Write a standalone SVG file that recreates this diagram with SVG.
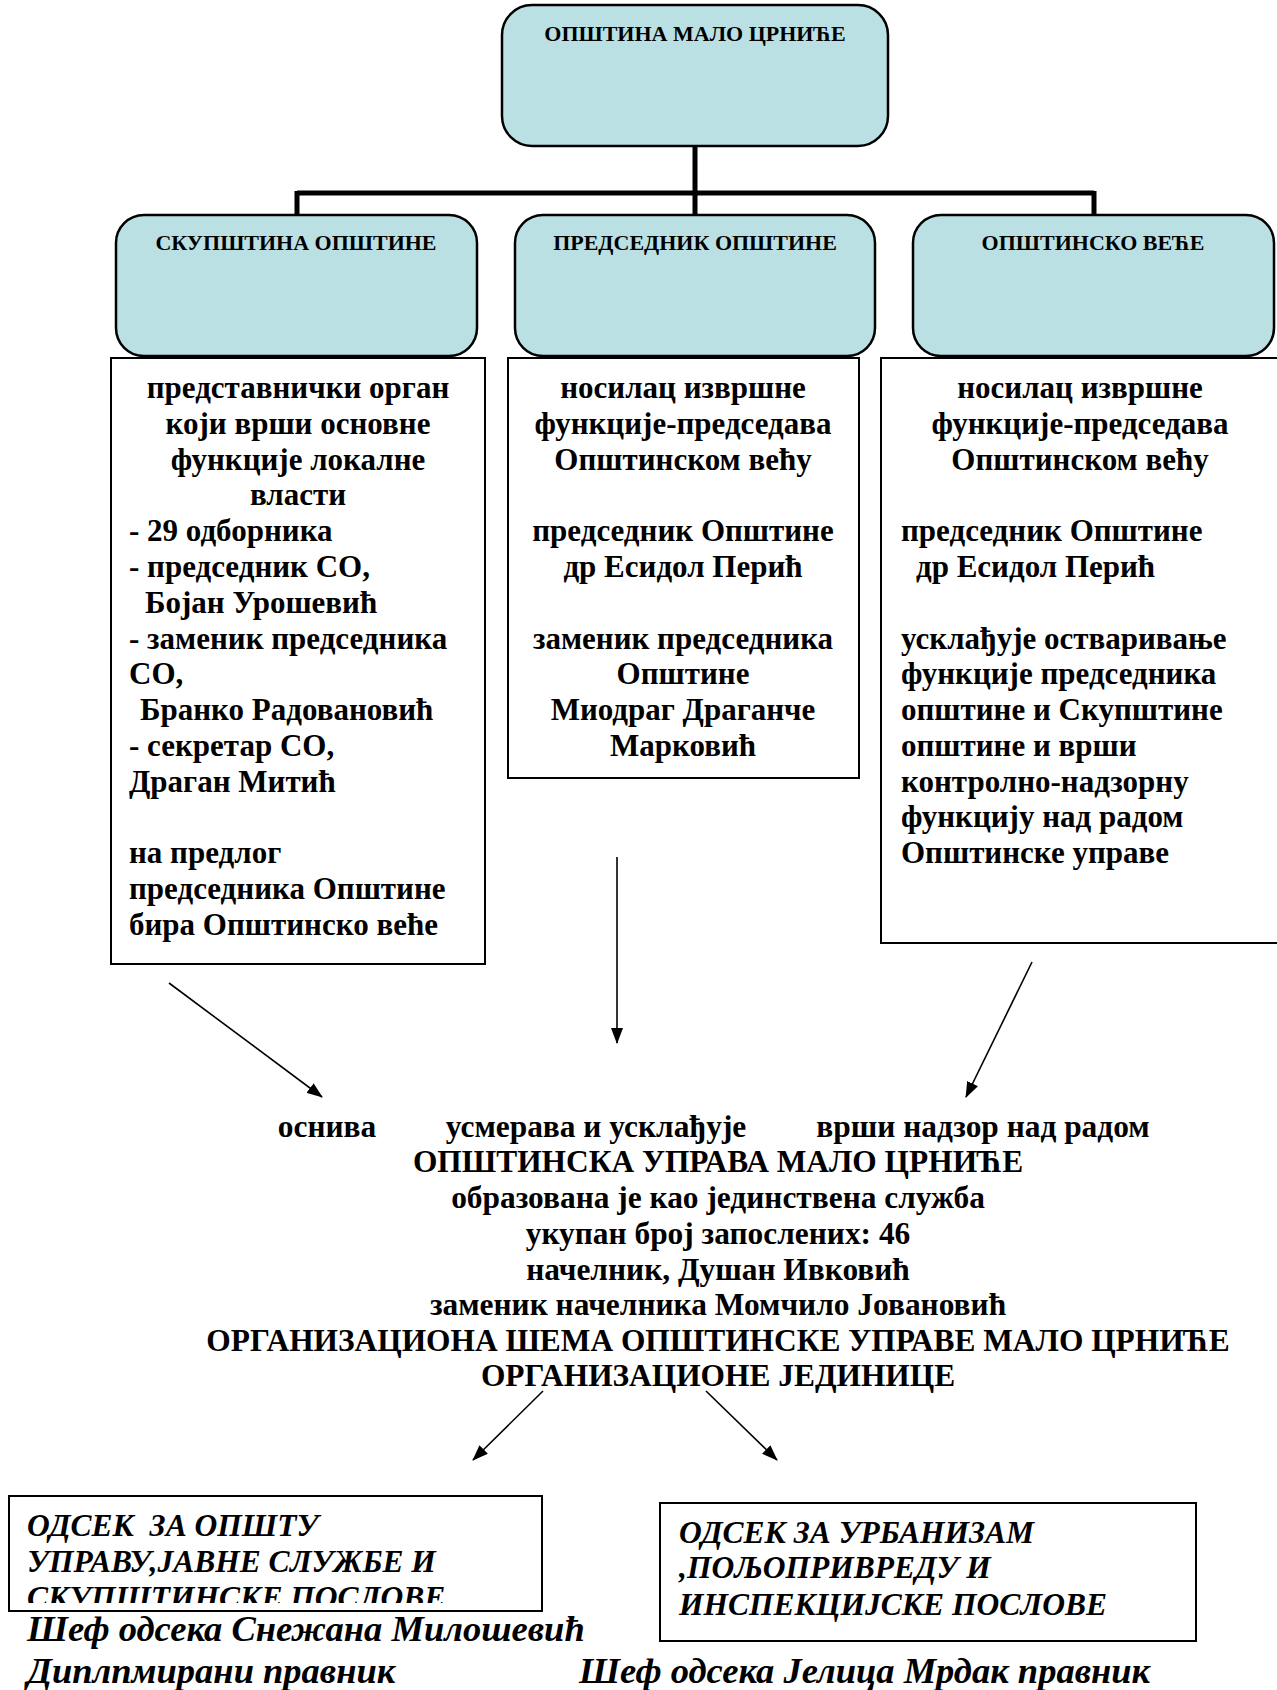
<svg xmlns="http://www.w3.org/2000/svg" width="1277" height="1690" viewBox="0 0 1277 1690">
<style>
.rb{fill:#bbe0e3;stroke:#000;stroke-width:2.5}
.tb{fill:#fff;stroke:#000;stroke-width:2}
.t{font-family:"Liberation Serif","Times New Roman",serif;font-weight:bold;fill:#000}
.h{font-size:22px;text-anchor:middle}
.b{font-size:31px}
.l{font-size:31.4px}
.o{font-size:31.5px}
.n{font-size:36.5px}
.c{text-anchor:middle}
.i{font-style:italic}
.thick{stroke:#000;stroke-width:5;fill:none}
.ar{stroke:#000;stroke-width:1.6;fill:none}
</style>
<defs>
<marker id="ah" markerWidth="16" markerHeight="12" refX="15" refY="6" orient="auto" markerUnits="userSpaceOnUse">
<path d="M0,0 L16,6 L0,12 Z" fill="#000"/>
</marker>
<clipPath id="clipL"><rect x="0" y="1490" width="560" height="113"/></clipPath>
</defs>

<g id="connectors">
<path class="thick" d="M695,146 V193 M297,193 H1094 M297,191 V215 M695,193 V215 M1094,191 V215"/>
<line class="ar" x1="169" y1="983" x2="322" y2="1097" marker-end="url(#ah)"/>
<line class="ar" x1="617" y1="857" x2="617" y2="1043" marker-end="url(#ah)"/>
<line class="ar" x1="1032" y1="962" x2="966" y2="1097" marker-end="url(#ah)"/>
<line class="ar" x1="543" y1="1391" x2="473" y2="1460" marker-end="url(#ah)"/>
<line class="ar" x1="706" y1="1391" x2="777" y2="1460" marker-end="url(#ah)"/>
</g>

<g id="opstina">
<rect class="rb" x="502" y="5" width="386" height="141" rx="30"/>
<text class="t h" x="695" y="41">ОПШТИНА МАЛО ЦРНИЋЕ</text>
</g>

<g id="skupstina">
<rect class="rb" x="116" y="215" width="361" height="141" rx="28"/>
<text class="t h" x="296" y="250">СКУПШТИНА ОПШТИНЕ</text>
</g>

<g id="predsednik">
<rect class="rb" x="515" y="215" width="360" height="141" rx="28"/>
<text class="t h" x="695" y="250">ПРЕДСЕДНИК ОПШТИНЕ</text>
</g>

<g id="vece">
<rect class="rb" x="913" y="215" width="361" height="141" rx="28"/>
<text class="t h" x="1093" y="250">ОПШТИНСКО ВЕЋЕ</text>
</g>

<g id="skupstina-opis">
<rect class="tb" x="111" y="358" width="374" height="606"/>
<text class="t b c" x="298" y="398">представнички орган</text>
<text class="t b c" x="298" y="434">који врши основне</text>
<text class="t b c" x="298" y="470">функције локалне</text>
<text class="t b c" x="298" y="505">власти</text>
<text class="t b" x="129" y="541">- 29 одборника</text>
<text class="t b" x="129" y="577">- председник СО,</text>
<text class="t b" x="145" y="613">Бојан Урошевић</text>
<text class="t b" x="129" y="649">- заменик председника</text>
<text class="t b" x="129" y="684">СО,</text>
<text class="t b" x="140" y="720">Бранко Радовановић</text>
<text class="t b" x="129" y="756">- секретар СО,</text>
<text class="t b" x="129" y="792">Драган Митић</text>
<text class="t b" x="129" y="863">на предлог</text>
<text class="t b" x="129" y="899">председника Општине</text>
<text class="t b" x="129" y="935">бира Општинско веће</text>
</g>

<g id="predsednik-opis">
<rect class="tb" x="508" y="358" width="351" height="420"/>
<text class="t b c" x="683" y="398">носилац извршне</text>
<text class="t b c" x="683" y="434">функције-председава</text>
<text class="t b c" x="683" y="470">Општинском већу</text>
<text class="t b c" x="683" y="541">председник Општине</text>
<text class="t b c" x="683" y="577">др Есидол Перић</text>
<text class="t b c" x="683" y="649">заменик председника</text>
<text class="t b c" x="683" y="684">Општине</text>
<text class="t b c" x="683" y="720">Миодраг Драганче</text>
<text class="t b c" x="683" y="756">Марковић</text>
</g>

<g id="vece-opis">
<rect class="tb" x="881" y="358" width="405" height="585"/>
<text class="t b c" x="1080" y="398">носилац извршне</text>
<text class="t b c" x="1080" y="434">функције-председава</text>
<text class="t b c" x="1080" y="470">Општинском већу</text>
<text class="t b" x="901" y="541">председник Општине</text>
<text class="t b" x="916" y="577">др Есидол Перић</text>
<text class="t b" x="901" y="649">усклађује остваривање</text>
<text class="t b" x="901" y="684">функције председника</text>
<text class="t b" x="901" y="720">општине и Скупштине</text>
<text class="t b" x="901" y="756">општине и врши</text>
<text class="t b" x="901" y="792">контролно-надзорну</text>
<text class="t b" x="901" y="827">функцију над радом</text>
<text class="t b" x="901" y="863">Општинске управе</text>
</g>

<g id="uprava">
<text class="t l c" x="327" y="1137">оснива</text>
<text class="t l c" x="596" y="1137">усмерава и усклађује</text>
<text class="t l c" x="983" y="1137">врши надзор над радом</text>
<text class="t l c" x="718" y="1172">ОПШТИНСКА УПРАВА МАЛО ЦРНИЋЕ</text>
<text class="t l c" x="718" y="1208">образована је као јединствена служба</text>
<text class="t l c" x="718" y="1244">укупан број запослених: 46</text>
<text class="t l c" x="718" y="1280">начелник, Душан Ивковић</text>
<text class="t l c" x="718" y="1315">заменик начелника Момчило Јовановић</text>
<text class="t l c" x="718" y="1351">ОРГАНИЗАЦИОНА ШЕМА ОПШТИНСКЕ УПРАВЕ МАЛО ЦРНИЋЕ</text>
<text class="t l c" x="718" y="1386">ОРГАНИЗАЦИОНЕ ЈЕДИНИЦЕ</text>
</g>

<g id="odsek-opsta">
<rect class="tb" x="9" y="1496" width="533" height="115"/>
<text class="t o i" x="27" y="1536" xml:space="preserve">ОДСЕК  ЗА ОПШТУ</text>
<text class="t o i" x="27" y="1572">УПРАВУ,ЈАВНЕ СЛУЖБЕ И</text>
<text class="t o i" x="27" y="1608" clip-path="url(#clipL)">СКУПШТИНСКЕ ПОСЛОВЕ</text>
<text class="t n i" x="27" y="1641">Шеф одсека Снежана Милошевић</text>
<text class="t n i" x="27" y="1683">Диплпмирани правник</text>
</g>

<g id="odsek-urbanizam">
<rect class="tb" x="660" y="1503" width="536" height="138"/>
<text class="t o i" x="679" y="1543">ОДСЕК ЗА УРБАНИЗАМ</text>
<text class="t o i" x="679" y="1578">,ПОЉОПРИВРЕДУ И</text>
<text class="t o i" x="679" y="1615">ИНСПЕКЦИЈСКЕ ПОСЛОВЕ</text>
<text class="t n i" x="579" y="1683">Шеф одсека Јелица Мрдак правник</text>
</g>
</svg>
